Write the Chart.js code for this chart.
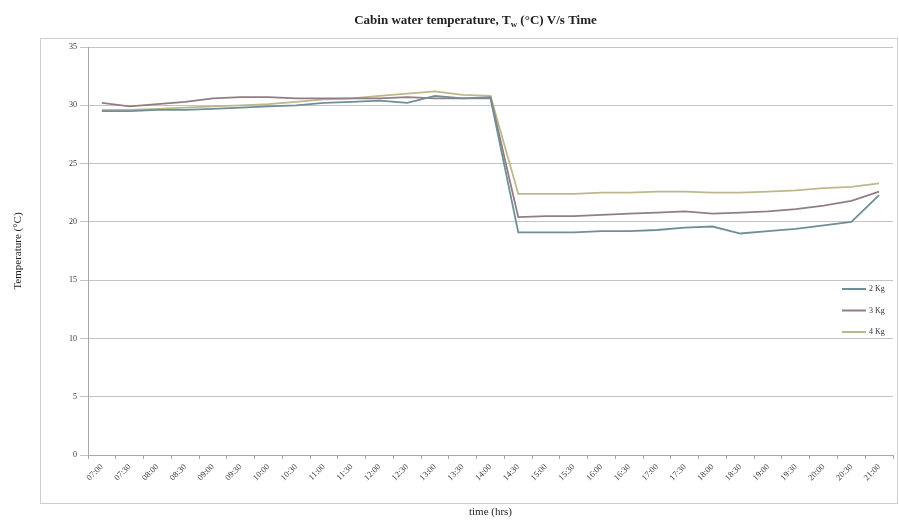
<!DOCTYPE html>
<html>
<head>
<meta charset="utf-8">
<script src="https://cdn.jsdelivr.net/npm/chart.js@4"></script>
<style>
  html, body { margin: 0; padding: 0; background: #fff; }
</style>
</head>
<body>
<canvas id="chart" width="899" height="523"></canvas>
<script>
const timeLabels = [
  '07:00', '07:30', '08:00', '08:30', '09:00', '09:30', '10:00', '10:30',
  '11:00', '11:30', '12:00', '12:30', '13:00', '13:30', '14:00', '14:30',
  '15:00', '15:30', '16:00', '16:30', '17:00', '17:30', '18:00', '18:30',
  '19:00', '19:30', '20:00', '20:30', '21:00'
];
const seriesNames = ['2 Kg', '3 Kg', '4 Kg'];
const temp2kg = [29.5, 29.5, 29.6, 29.6, 29.7, 29.8, 29.9, 30.0, 30.2, 30.3, 30.4, 30.2, 30.8, 30.6, 30.6,
  19.1, 19.1, 19.1, 19.2, 19.2, 19.3, 19.5, 19.6, 19.0, 19.2, 19.4, 19.7, 20.0, 22.3];
const temp3kg = [30.2, 29.9, 30.1, 30.3, 30.6, 30.7, 30.7, 30.6, 30.6, 30.6, 30.6, 30.7, 30.6, 30.6, 30.7,
  20.4, 20.5, 20.5, 20.6, 20.7, 20.8, 20.9, 20.7, 20.8, 20.9, 21.1, 21.4, 21.8, 22.6];
const temp4kg = [29.6, 29.6, 29.7, 29.8, 29.9, 30.0, 30.1, 30.3, 30.5, 30.6, 30.8, 31.0, 31.2, 30.9, 30.8,
  22.4, 22.4, 22.4, 22.5, 22.5, 22.6, 22.6, 22.5, 22.5, 22.6, 22.7, 22.9, 23.0, 23.3];
const lineColors = ['#6f8f98', '#927e82', '#bdb88c'];
const chartTitle = ['Cabin water temperature, T', 'w', ' (°C) V/s Time'];

const serif = "'Liberation Serif', 'DejaVu Serif', serif";
const textColor = '#333';

// outer frame round plot + tick labels, like the Excel chart border
const frame = {
  id: 'frame',
  beforeDraw(chart) {
    const { ctx, chartArea: a } = chart;
    ctx.save();
    ctx.strokeStyle = '#cfcfcf';
    ctx.lineWidth = 1;
    ctx.strokeRect(Math.round(a.left - 48) + 0.5, Math.round(a.top - 9) + 0.5,
      Math.round(chart.width - a.left + 46), Math.round(a.bottom - a.top + 57));
    ctx.restore();
  }
};

// title with subscript w
const subTitle = {
  id: 'subTitle',
  afterDraw(chart) {
    const { ctx, chartArea: a } = chart;
    const big = 'bold 13px ' + serif;
    const small = 'bold 9px ' + serif;
    ctx.save();
    ctx.fillStyle = '#222';
    ctx.textBaseline = 'alphabetic';
    ctx.font = big;
    const w1 = ctx.measureText(chartTitle[0]).width;
    const w3 = ctx.measureText(chartTitle[2]).width;
    ctx.font = small;
    const w2 = ctx.measureText(chartTitle[1]).width;
    let x = (a.left + a.right) / 2 - 15 - (w1 + w2 + w3) / 2;
    const y = a.top - 23;
    ctx.font = big;
    ctx.fillText(chartTitle[0], x, y);
    x += w1;
    ctx.font = small;
    ctx.fillText(chartTitle[1], x, y + 3);
    x += w2;
    ctx.font = big;
    ctx.fillText(chartTitle[2], x, y);
    ctx.restore();
  }
};

// small legend inside the plot on the right
const innerLegend = {
  id: 'innerLegend',
  afterDraw(chart) {
    const { ctx, chartArea: a } = chart;
    ctx.save();
    ctx.font = '8px ' + serif;
    ctx.textBaseline = 'middle';
    chart.data.datasets.forEach((ds, i) => {
      const y = a.top + 242 + i * 21.5;
      const x0 = a.right - 51;
      ctx.strokeStyle = ds.borderColor;
      ctx.lineWidth = 2;
      ctx.beginPath();
      ctx.moveTo(x0, y);
      ctx.lineTo(x0 + 24, y);
      ctx.stroke();
      ctx.fillStyle = textColor;
      ctx.fillText(ds.label, x0 + 27, y);
    });
    ctx.restore();
  }
};

new Chart(document.getElementById('chart'), {
  type: 'line',
  data: {
    labels: timeLabels,
    datasets: [temp2kg, temp3kg, temp4kg].map((values, i) => ({
      label: seriesNames[i],
      data: values,
      borderColor: lineColors[i],
      backgroundColor: lineColors[i],
      borderWidth: 1.8,
      pointRadius: 0,
      tension: 0
    }))
  },
  options: {
    responsive: false,
    animation: false,
    layout: { padding: { left: 8, right: 6, top: 47, bottom: 0 } },
    plugins: {
      legend: { display: false },
      tooltip: { enabled: false },
      title: { display: false }
    },
    scales: {
      x: {
        offset: true,
        afterFit(scale) { scale.height = 68; },
        grid: { display: true, drawOnChartArea: false, drawTicks: true, tickLength: 4, offset: true, color: '#a8a8a8' },
        border: { color: '#a8a8a8' },
        ticks: {
          autoSkip: false,
          minRotation: 45,
          maxRotation: 45,
          padding: 3,
          color: textColor,
          font: { family: serif, size: 8.5 }
        },
        title: {
          display: true,
          text: 'time (hrs)',
          color: '#222',
          font: { family: serif, size: 11 },
          padding: { top: 4, bottom: 4 }
        }
      },
      y: {
        min: 0,
        max: 35,
        afterFit(scale) { scale.width = 80; },
        grid: { color: '#c4c4c4', tickLength: 8 },
        border: { color: '#a8a8a8' },
        ticks: {
          stepSize: 5,
          padding: 3,
          color: textColor,
          font: { family: serif, size: 8 }
        },
        title: {
          display: true,
          text: 'Temperature (°C)',
          color: '#222',
          font: { family: serif, size: 11 },
          padding: { top: 4, bottom: 4 }
        }
      }
    }
  },
  plugins: [frame, subTitle, innerLegend]
});
</script>
</body>
</html>
